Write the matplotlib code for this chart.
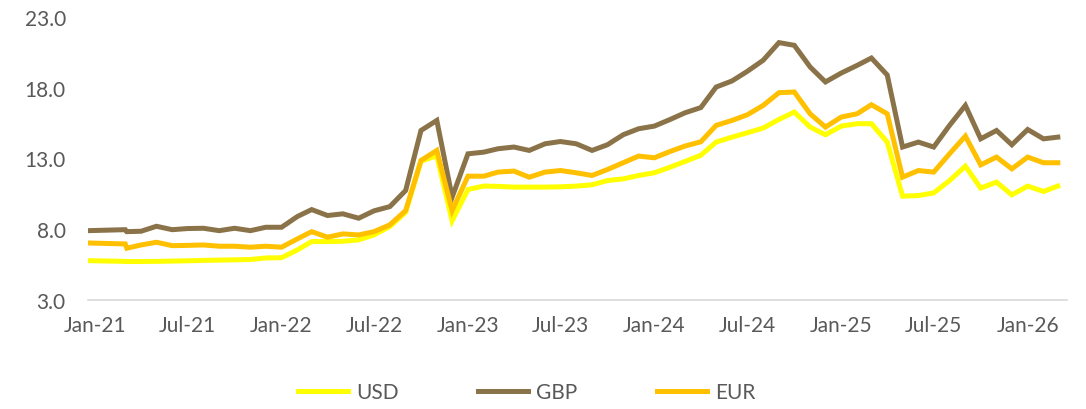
import matplotlib
matplotlib.use("Agg")
import matplotlib.pyplot as plt
import matplotlib.dates as mdates
import pandas as pd

# dates of the observations (first points are irregular, then monthly)
dates = ["2020-12-18", "2021-03-01", "2021-03-04"] + \
    list(pd.date_range("2021-04-01", "2026-03-01", freq="MS"))
dates = pd.to_datetime(dates)

usd = [5.78, 5.73, 5.72, 5.72, 5.73, 5.75, 5.77, 5.80, 5.82, 5.84, 5.86, 5.97,
       5.99, 6.54, 7.13, 7.13, 7.15, 7.25, 7.60, 8.19, 9.20, 12.80, 13.20, 8.60,
       10.81, 11.05, 11.03, 10.98, 10.98, 10.98, 11.00, 11.05, 11.14, 11.44, 11.56, 11.80,
       11.99, 12.39, 12.79, 13.23, 14.16, 14.51, 14.82, 15.15, 15.76, 16.28, 15.22, 14.68,
       15.29, 15.46, 15.46, 14.16, 10.34, 10.38, 10.57, 11.44, 12.46, 10.91, 11.33, 10.43,
       11.05, 10.67, 11.05]

gbp = [7.90, 7.97, 7.83, 7.86, 8.21, 7.97, 8.05, 8.07, 7.90, 8.07, 7.90, 8.14,
       8.14, 8.90, 9.39, 8.97, 9.09, 8.78, 9.30, 9.60, 10.74, 14.98, 15.69, 10.27,
       13.33, 13.45, 13.69, 13.81, 13.57, 14.04, 14.20, 14.04, 13.57, 13.97, 14.68, 15.10,
       15.29, 15.76, 16.23, 16.60, 18.05, 18.48, 19.16, 19.94, 21.19, 21.00, 19.47, 18.41,
       19.04, 19.58, 20.10, 18.90, 13.81, 14.16, 13.81, 15.34, 16.75, 14.39, 14.98, 13.97,
       15.05, 14.39, 14.51]

eur = [7.03, 6.96, 6.66, 6.89, 7.08, 6.84, 6.86, 6.89, 6.80, 6.80, 6.73, 6.80,
       6.73, 7.32, 7.83, 7.44, 7.67, 7.60, 7.83, 8.31, 9.32, 12.86, 13.57, 9.32,
       11.75, 11.75, 12.04, 12.11, 11.68, 12.04, 12.15, 11.99, 11.80, 12.22, 12.70, 13.17,
       13.05, 13.50, 13.88, 14.18, 15.34, 15.69, 16.09, 16.75, 17.65, 17.70, 16.16, 15.22,
       15.93, 16.16, 16.80, 16.16, 11.68, 12.15, 12.04, 13.33, 14.58, 12.55, 13.10, 12.27,
       13.10, 12.70, 12.70]

plt.rcParams['font.family'] = ['Lato', 'DejaVu Sans']
grey = '#595959'

fig = plt.figure(figsize=(10.86, 4.10), dpi=100)
ax = fig.add_axes([88 / 1086, 1 - 301 / 410, (1067 - 88) / 1086, (301 - 18) / 410])

# plot the three series
ax.plot(dates, usd, color='#FFFF00', lw=3.6, label='USD', solid_joinstyle='miter')
ax.plot(dates, gbp, color='#8B7349', lw=3.6, label='GBP', solid_joinstyle='miter')
ax.plot(dates, eur, color='#FFC000', lw=3.6, label='EUR', solid_joinstyle='miter')

ax.set_ylim(3, 23)
ax.set_yticks([3, 8, 13, 18, 23])
ax.yaxis.set_major_formatter(plt.FormatStrFormatter('%.1f'))
ax.set_xlim(dates[0], pd.Timestamp("2026-03-19"))
ax.xaxis.set_major_locator(mdates.MonthLocator(bymonth=[1, 7]))
ax.xaxis.set_major_formatter(mdates.DateFormatter('%b-%y'))

for s in ['top', 'right', 'left']:
    ax.spines[s].set_visible(False)
ax.spines['bottom'].set_color('#D9D9D9')
ax.spines['bottom'].set_linewidth(1.2)
ax.tick_params(axis='both', length=0, labelsize=15, colors=grey)
ax.tick_params(axis='y', pad=16)
ax.tick_params(axis='x', pad=11)

fig.legend(loc='center', bbox_to_anchor=(0.485, 0.041), ncol=3, frameon=False,
           fontsize=15, handlelength=2.4, handletextpad=0.4, columnspacing=3.8,
           labelcolor=grey)

plt.savefig('out.png', dpi=100)
